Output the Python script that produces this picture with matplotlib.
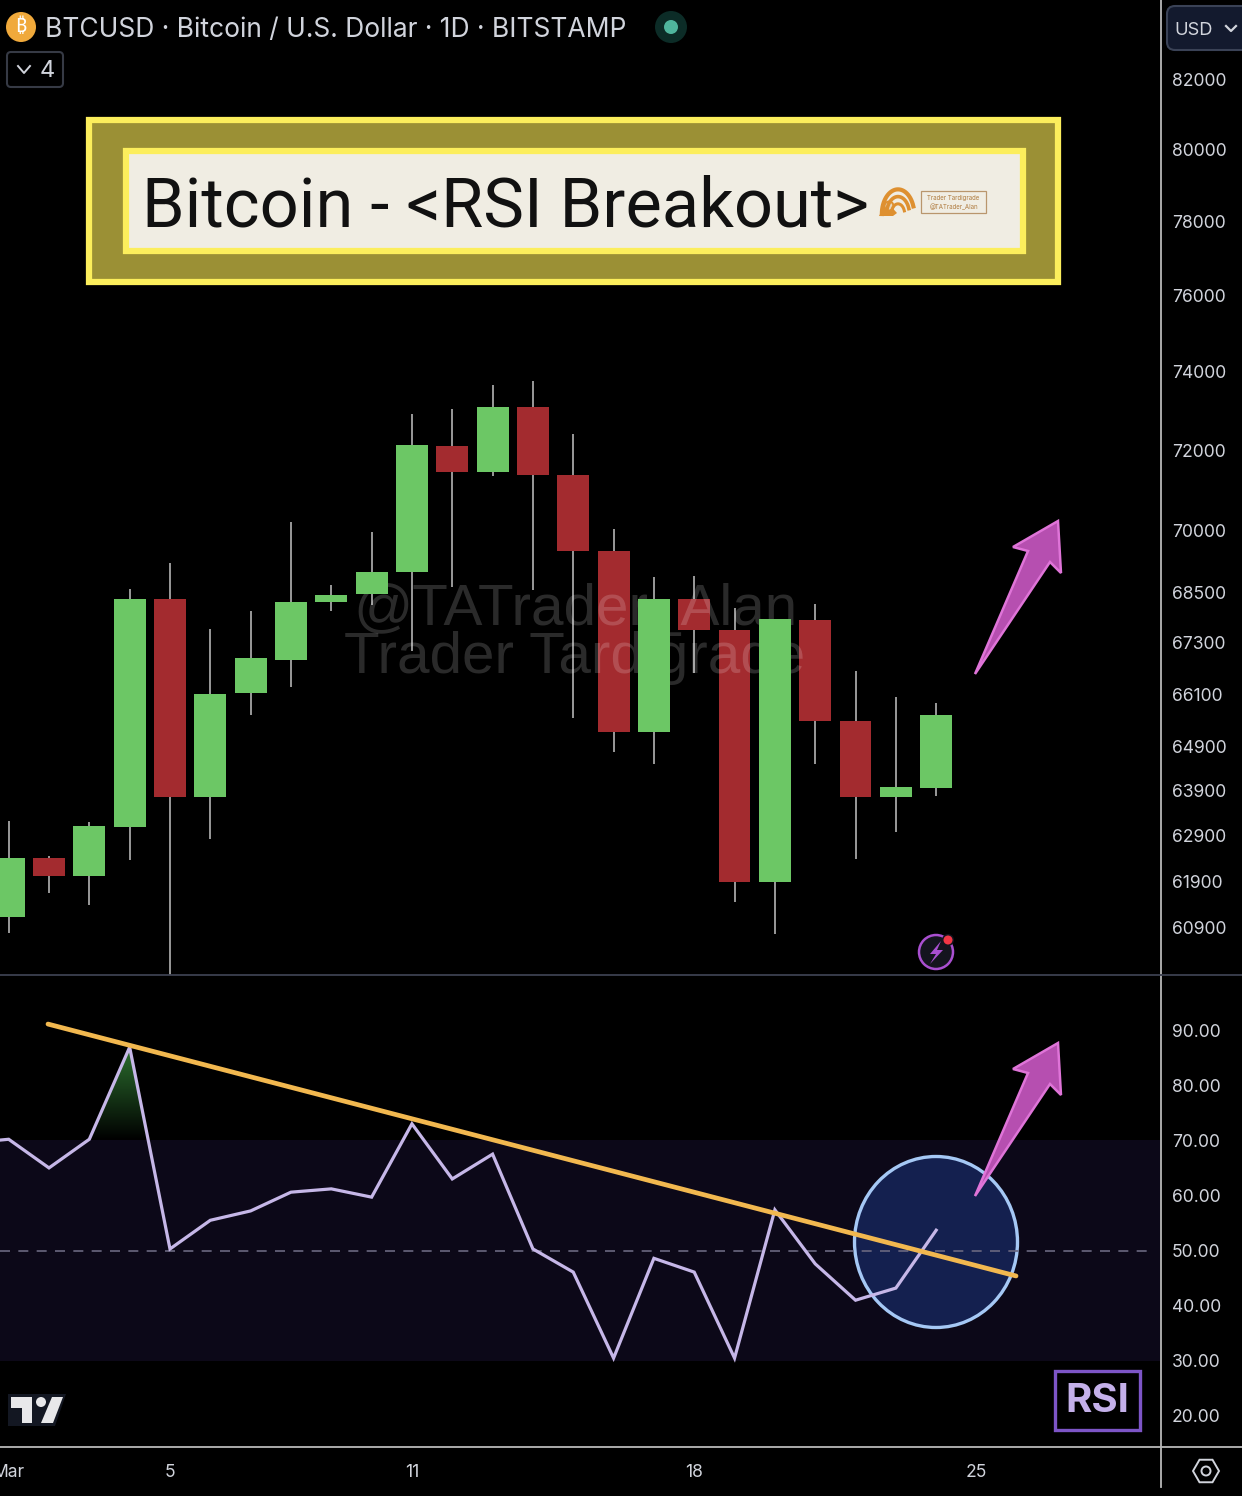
import numpy as np
import matplotlib
matplotlib.use('Agg')
import matplotlib.pyplot as plt
from matplotlib.patches import Rectangle, FancyBboxPatch, Polygon, Circle, Ellipse

plt.rcParams['font.family'] = ['Inter', 'DejaVu Sans']

# Daily candles, March
days = list(range(1, 25))
opens = [61145, 62420, 62010, 63100, 68330, 63770, 66120, 66900, 68260, 68450, 69000, 72100,
         71445, 73095, 71370, 69490, 65220, 68330, 67610, 61900, 67840, 65475, 63770, 63965]
closes = [62420, 62030, 63120, 68330, 63770, 66100, 66950, 68280, 68430, 69000, 72125, 71445,
          73095, 71370, 69490, 65220, 68330, 67610, 61900, 67860, 65475, 63770, 63990, 65610]
highs = [63230, 62460, 63210, 68570, 69200, 67630, 68050, 70200, 68670, 69975, 72915, 73045,
         73665, 73770, 72405, 70050, 68860, 68885, 68130, 67860, 68220, 66640, 66030, 65890]
lows = [60795, 61660, 61400, 62360, 59900, 62830, 65610, 66260, 68050, 68190, 67110, 68620,
        71340, 68550, 65560, 64765, 64510, 66590, 61450, 60770, 64510, 62390, 62990, 63790]

price_ticks = [82000, 80000, 78000, 76000, 74000, 72000, 70000, 68500, 67300, 66100,
               64900, 63900, 62900, 61900, 60900]

# RSI, first value is the day before the visible range
rsi_days = list(range(0, 25))
rsi = [69.5, 70.2, 65.0, 70.2, 86.9, 50.3, 55.5, 57.2, 60.6, 61.2, 59.7, 73.0, 63.0, 67.5,
       50.3, 46.1, 30.5, 48.6, 46.1, 30.5, 57.4, 47.6, 41.0, 43.2, 53.7]
rsi_ticks = [90, 80, 70, 60, 50, 40, 30, 20]

trend_days = [1.975, 25.98]
trend_rsi = [91.1, 45.4]

date_ticks = [1, 5, 11, 18, 25]
date_labels = ['Mar', '5', '11', '18', '25']

W, H = 1242, 1496
GREEN = '#6cc765'
RED = '#a32b2f'
WICK = '#b4b4b4'
TXT = '#d1d4dc'
XLIM = (0.785, 29.55)


def frac(x0, y0, x1, y1):
    # pixel box (y down) to figure fraction
    return [x0 / W, 1 - y1 / H, (x1 - x0) / W, (y1 - y0) / H]


fig = plt.figure(figsize=(W / 100, H / 100), dpi=100, facecolor='black')

ax = fig.add_axes(frac(0, 0, 1160, 975), facecolor='black')
ax2 = fig.add_axes(frac(0, 975, 1160, 1447), facecolor='black')
px = fig.add_axes([0, 0, 1, 1], facecolor='none', zorder=10)
px.set_xlim(0, W)
px.set_ylim(H, 0)
px.axis('off')

# price pane
ax.set_yscale('log')
ax.set_xlim(*XLIM)
ax.set_ylim(59905, 84302)
ax.vlines(days, lows, highs, color=WICK, lw=1.2, zorder=2)
o, c, d = np.array(opens), np.array(closes), np.array(days)
up = c >= o
# watermark sits over the red bodies but hardly shows on the green ones
ax.bar(d[~up], (o - c)[~up], bottom=c[~up], width=0.79, color=RED, zorder=3)
ax.bar(d[up], (c - o)[up], bottom=o[up], width=0.79, color=GREEN, zorder=5)
ax.yaxis.tick_right()
ax.set_yticks(price_ticks)
ax.set_yticklabels([str(t) for t in price_ticks])
ax.minorticks_off()
ax.tick_params(axis='y', length=0, pad=8.4, labelsize=12.6, labelcolor=TXT)
ax.set_xticks([])
for s in ax.spines.values():
    s.set_visible(False)

# watermark
ax.text(575, 610, '@TATrader_Alan', transform=px.transData, color='white', alpha=0.17, fontsize=42,
        family='Liberation Sans', ha='center', va='center', zorder=4)
ax.text(575, 658, 'Trader Tardigrade', transform=px.transData, color='white', alpha=0.17, fontsize=42,
        family='Liberation Sans', ha='center', va='center', zorder=4)

# rsi pane
ax2.set_xlim(*XLIM)
ax2.set_ylim(14.37, 100)
ax2.axhspan(30, 70, color='#0c0818', lw=0, zorder=0)

cross = 4 + (rsi[4] - 70) / (rsi[4] - rsi[5])
grad = np.zeros((100, 2, 4))
grad[..., 0] = 0.18
grad[..., 1] = 0.45
grad[..., 2] = 0.19
grad[..., 3] = np.linspace(1, 0, 100)[:, None]
im = ax2.imshow(grad, extent=[3, cross, 70, rsi[4]], aspect='auto', origin='upper', zorder=1)
im.set_clip_path(Polygon([(3, 70), (3, rsi[3]), (4, rsi[4]), (cross, 70)], transform=ax2.transData))
ax2.set_xlim(*XLIM)
ax2.set_ylim(14.37, 100)

ax2.add_patch(Ellipse((936, 1242), 163, 171, transform=px.transData, fc='#14204f', ec='#a5c8f5', lw=2.4,
                      clip_on=False, zorder=1.5))
ax2.axhline(50, xmax=1150 / 1160, color='#6a6780', lw=1.2, dashes=(6, 5), zorder=2)
ax2.plot(rsi_days, rsi, color='#c6b7e8', lw=2.3, zorder=3, solid_joinstyle='miter')
ax2.plot(trend_days, trend_rsi, color='#f2b84f', lw=3.4, solid_capstyle='round', zorder=4)

ax2.yaxis.tick_right()
ax2.set_yticks(rsi_ticks)
ax2.set_yticklabels(['%.2f' % t for t in rsi_ticks])
ax2.set_xticks(date_ticks)
ax2.set_xticklabels(date_labels)
ax2.tick_params(axis='y', length=0, pad=8.4, labelsize=12.6, labelcolor=TXT)
ax2.tick_params(axis='x', length=0, pad=12, labelsize=12.6, labelcolor=TXT)
for s in ax2.spines.values():
    s.set_visible(False)

# pane separators
px.plot([1161, 1161], [0, 1487], color='#b8b8b8', lw=1.3)
px.plot([0, W], [975, 975], color='#3c4150', lw=1.3)
px.plot([0, W], [1447, 1447], color='#b8b8b8', lw=1.3)

# title banner
px.add_patch(Rectangle((89, 120), 969, 162, fc='#9b9035', ec='#fcee5c', lw=4.5))
px.add_patch(Rectangle((126, 151), 897, 100, fc='#f0ede3', ec='#fcee5c', lw=4.5))
px.text(142, 226, 'Bitcoin - <RSI Breakout>', color='#111111', fontsize=49.3, family='Roboto',
        va='baseline', ha='left')

# shell logo + stamp
for r, lw in zip([17, 12, 7], [3.0, 2.6, 2.2]):
    t = np.linspace(np.pi * 1.0, np.pi * 1.9, 30)
    px.plot(898 + r * np.cos(t) * 0.95, 214 + r * 1.45 * np.sin(t), color='#de9030', lw=lw)
px.add_patch(Polygon([(879, 216), (887, 202), (897, 213), (893, 216)], fc='#de9030', ec='none'))
px.add_patch(Circle((889, 206), 4.5, fc='#e6d8bf', ec='#de9030', lw=1.4))
px.add_patch(Rectangle((921, 191), 65, 22, fc='none', ec='#b9966d', lw=0.9))
px.text(953.5, 197.5, 'Trader Tardigrade', color='#b07c40', fontsize=4.4, ha='center', va='center')
px.text(953.5, 206.5, '@TATrader_Alan', color='#b07c40', fontsize=4.4, ha='center', va='center')

# arrows
arrow_top = [(975, 674), (1028, 551), (1013, 547), (1058, 521), (1061, 573), (1050, 562)]
for dy in (0, 522):
    px.add_patch(Polygon([(x, y + dy) for x, y in arrow_top], closed=True, fc='#b64fb0', ec='#df74d8',
                         lw=1.8, joinstyle='miter'))

# header
px.add_patch(Circle((21, 27), 15, fc='#f0a93b', ec='none'))
px.text(21, 27, '\u20bf', color='white', fontsize=14, fontweight='bold', ha='center', va='center',
        family=['Noto Sans', 'Inter'])
px.text(45, 37, 'BTCUSD \u00b7 Bitcoin / U.S. Dollar \u00b7 1D \u00b7 BITSTAMP', color=TXT, fontsize=19.0,
        ha='left', va='baseline')
px.add_patch(Circle((671, 27), 16, fc='#0c2c27', ec='none'))
px.add_patch(Circle((671, 27), 7, fc='#4fb59d', ec='none'))
px.add_patch(FancyBboxPatch((7, 52), 56, 35, boxstyle='round,pad=0,rounding_size=4', fc='none', ec='#363a45',
                            lw=1.5))
px.plot([18, 24, 30], [66, 73, 66], color=TXT, lw=1.4)
px.text(47, 71, '4', color=TXT, fontsize=17, ha='center', va='center')

# currency button
px.add_patch(FancyBboxPatch((1167, 6), 85, 44, boxstyle='round,pad=0,rounding_size=8', fc='#131a2e',
                            ec='#3a4256', lw=1.5))
px.text(1174, 30, 'USD', color=TXT, fontsize=13.2, ha='left', va='center')
px.plot([1226, 1231, 1236], [26, 31, 26], color=TXT, lw=1.6)

# lightning badge
px.add_patch(Circle((936, 952), 17, fc='#14141e', ec='#a94fd0', lw=1.8))
px.add_patch(Polygon([(941, 941), (930, 954), (936, 954), (930, 964), (943, 950), (937, 950)], fc='#a94fd0',
                     ec='none'))
px.add_patch(Circle((948, 940), 6, fc='#14141e', ec='none'))
px.add_patch(Circle((948, 940), 4.5, fc='#f23645', ec='none'))

# tradingview logo
px.add_patch(Polygon([(8, 1394), (66, 1394), (55, 1426), (8, 1426)], fc='#131722', ec='none'))
px.add_patch(Polygon([(11, 1397), (32, 1397), (32, 1423), (22, 1423), (22, 1408), (11, 1408)], fc='#e8e8ea',
                     ec='none'))
px.add_patch(Circle((41, 1402), 5, fc='#e8e8ea', ec='none'))
px.add_patch(Polygon([(52, 1397), (63, 1397), (53, 1423), (41, 1423)], fc='#e8e8ea', ec='none'))

# RSI stamp
px.add_patch(Rectangle((1055, 1371), 85, 59, fc='none', ec='#7d55c7', lw=2.4))
px.text(1097, 1402, 'RSI', color='#c4b0ea', fontsize=29, fontweight='bold', ha='center', va='center')

# settings hexagon
a = np.deg2rad(np.arange(0, 360, 60))
px.add_patch(Polygon(np.c_[1206 + 13 * np.cos(a), 1471 + 13 * np.sin(a)], fc='none', ec=TXT, lw=1.4))
px.add_patch(Circle((1206, 1471), 4.5, fc='none', ec=TXT, lw=1.4))

fig.savefig('out.png', dpi=100, facecolor='black')
